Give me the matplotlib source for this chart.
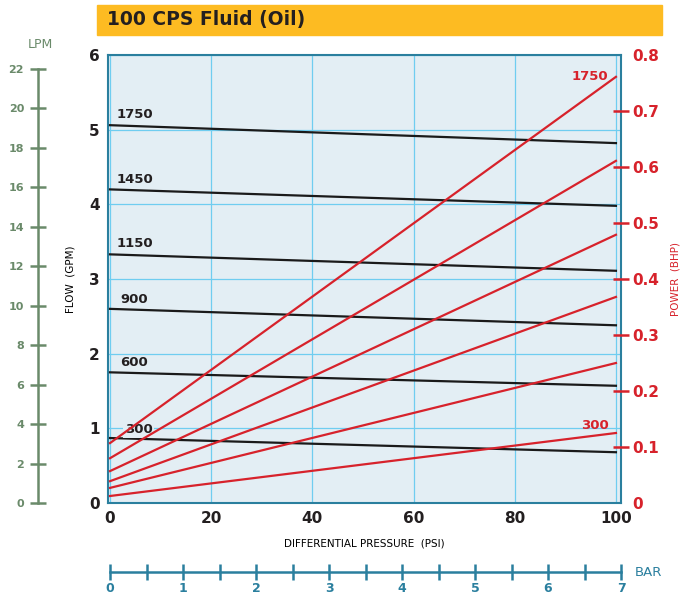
import matplotlib.pyplot as plt

plt.rcParams['font.family'] = ['DejaVu Sans']

# flow lines (GPM) at 0 and 100 psi, per speed (rpm)
speeds = ['1750', '1450', '1150', '900', '600', '300']
psi = [0, 100]
flow_gpm = {
    '1750': [5.06, 4.82],
    '1450': [4.20, 3.98],
    '1150': [3.33, 3.11],
    '900': [2.60, 2.38],
    '600': [1.75, 1.57],
    '300': [0.87, 0.68],
}
# power lines (BHP) at 0 and 100 psi
power_bhp = {
    '1750': [0.107, 0.761],
    '1450': [0.080, 0.611],
    '1150': [0.057, 0.479],
    '900': [0.039, 0.368],
    '600': [0.027, 0.250],
    '300': [0.0125, 0.125],
}

x_ticks = [0, 20, 40, 60, 80, 100]
flow_ticks = [0, 1, 2, 3, 4, 5, 6]
power_ticks = [0, 0.1, 0.2, 0.3, 0.4, 0.5, 0.6, 0.7, 0.8]
lpm_ticks = list(range(0, 24, 2))
bar_ticks = list(range(0, 8))

GPM_TO_LPM = 3.785
PSI_PER_BAR = 14.5038

red = '#d7222b'
green = '#6a8a6a'
teal = '#2a7f9e'

W, H = 683, 598
fig = plt.figure(figsize=(W / 100, H / 100), dpi=100)

# title bar
fig.patches.append(plt.Rectangle((97 / W, 1 - 35 / H), 565 / W, 30 / H,
                                 transform=fig.transFigure, color='#fdbb22', zorder=0))
fig.text(107 / W, 1 - 20 / H, '100 CPS Fluid (Oil)', fontsize=13.5, fontweight='bold',
         color='#231f20', va='center', ha='left')

left, right, top, bottom = 108, 621, 55, 503
ax = fig.add_axes([left / W, 1 - bottom / H, (right - left) / W, (bottom - top) / H])
ax.set_facecolor('#e3eef4')
xmin, xmax = -0.4, 101
ax.set_xlim(xmin, xmax)
ax.set_ylim(0, 6)
for s in ax.spines.values():
    s.set_color(teal)
    s.set_linewidth(1.5)
ax.set_xticks(x_ticks)
ax.set_yticks(flow_ticks)
ax.grid(True, color='#6fcdf0', linewidth=0.9)
ax.set_axisbelow(True)
ax.tick_params(length=0, pad=6)
for lab in ax.get_xticklabels() + ax.get_yticklabels():
    lab.set_fontweight('bold')
    lab.set_fontsize(11)
    lab.set_color('#231f20')
ax.set_ylabel('FLOW  (GPM)', fontsize=7.5, labelpad=10)
ax.set_xlabel('DIFFERENTIAL PRESSURE  (PSI)', fontsize=7.5, labelpad=9)

for sp in speeds:
    ax.plot(psi, flow_gpm[sp], color='#1a1a1a', linewidth=1.6, zorder=3)

label_pos = {'1750': (1.3, 5.2), '1450': (1.3, 4.33), '1150': (1.3, 3.47),
             '900': (2.0, 2.73), '600': (2.0, 1.88), '300': (2.9, 0.98)}
for sp in speeds:
    ax.text(label_pos[sp][0], label_pos[sp][1], sp, fontsize=9.5, fontweight='bold',
            color='#231f20', va='center', ha='left', zorder=4,
            bbox=dict(boxstyle='square,pad=0.1', fc='#e3eef4', ec='none') if sp == '300' else None)

# power axis
ax2 = ax.twinx()
ax2.set_ylim(0, 0.8)
ax2.set_xlim(xmin, xmax)
for s in ax2.spines.values():
    s.set_visible(False)
for sp in speeds:
    ax2.plot(psi, power_bhp[sp], color=red, linewidth=1.6, zorder=3)
ax2.set_yticks(power_ticks)
ax2.set_yticklabels(['0', '0.1', '0.2', '0.3', '0.4', '0.5', '0.6', '0.7', '0.8'])
ax2.tick_params(axis='y', colors=red, direction='inout', length=12, width=1.8, pad=2)
for t in (ax2.yaxis.get_major_ticks()[0], ax2.yaxis.get_major_ticks()[-1]):
    t.tick2line.set_visible(False)
for lab in ax2.get_yticklabels():
    lab.set_fontweight('bold')
    lab.set_fontsize(11)
ax2.set_ylabel('POWER  (BHP)', color=red, fontsize=7.5, labelpad=8)
ax2.text(98.5, 0.762, '1750', color=red, fontsize=9.5, fontweight='bold', ha='right', va='center')
ax2.text(98.5, 0.138, '300', color=red, fontsize=9.5, fontweight='bold', ha='right', va='center')

# LPM axis on the far left
axl = fig.add_axes([38 / W, 1 - bottom / H, 0.001, (bottom - top) / H])
axl.set_ylim(0, 6 * GPM_TO_LPM)
axl.set_xticks([])
for k in ('top', 'right', 'bottom'):
    axl.spines[k].set_visible(False)
axl.spines['left'].set_color(green)
axl.spines['left'].set_linewidth(1.8)
axl.spines['left'].set_bounds(0, 22)
axl.set_yticks(lpm_ticks)
axl.tick_params(axis='y', colors=green, direction='inout', length=12, width=1.8, pad=4)
for lab in axl.get_yticklabels():
    lab.set_fontweight('bold')
    lab.set_fontsize(8)
axl.patch.set_visible(False)
fig.text(40 / W, 1 - 45 / H, 'LPM', color=green, fontsize=9, ha='center', va='center')

# BAR axis at the bottom
axb = fig.add_axes([left / W, 1 - 572 / H, (right - left) / W, 0.001])
axb.set_xlim(xmin / PSI_PER_BAR, xmax / PSI_PER_BAR)
axb.set_yticks([])
for k in ('top', 'right', 'left'):
    axb.spines[k].set_visible(False)
axb.spines['bottom'].set_color(teal)
axb.spines['bottom'].set_linewidth(1.8)
axb.spines['bottom'].set_bounds(0, 7)
axb.set_xticks(bar_ticks)
axb.set_xticks([b + 0.5 for b in bar_ticks[:-1]], minor=True)
axb.tick_params(axis='x', which='both', colors=teal, direction='inout', length=12, width=1.8, pad=1)
for lab in axb.get_xticklabels():
    lab.set_fontweight('bold')
    lab.set_fontsize(9)
axb.patch.set_visible(False)
fig.text(648 / W, 1 - 572 / H, 'BAR', color=teal, fontsize=9.5, ha='center', va='center')

fig.savefig('out.png', dpi=100)
